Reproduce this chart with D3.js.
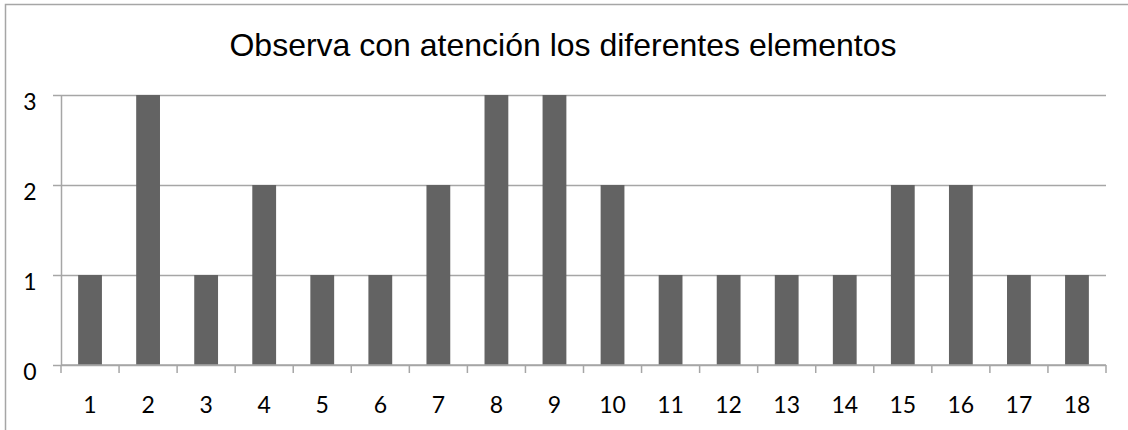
<!DOCTYPE html>
<html>
<head>
<meta charset="utf-8">
<script src="https://cdn.jsdelivr.net/npm/d3@7"></script>
<style>
  html, body { margin: 0; padding: 0; background: #fff; }
  svg { display: block; }
</style>
</head>
<body>
<svg id="chart" width="1128" height="430"></svg>
<script>
// Chart data
const categories = ["1","2","3","4","5","6","7","8","9","10","11","12","13","14","15","16","17","18"];
const values = [1, 3, 1, 2, 1, 1, 2, 3, 3, 2, 1, 1, 1, 1, 2, 2, 1, 1];
const yTicks = [0, 1, 2, 3];
const title = "Observa con atención los diferentes elementos";

const W = 1128, H = 430;
const margin = { left: 61, right: 22, top: 95, bottom: 65 };
const labelFont = "Lato, 'Open Sans', sans-serif";
const svg = d3.select("#chart");

// Outer chart frame (top and left edges visible)
svg.append("path")
  .attr("d", `M5.5,${H} V4.5 H${W}`)
  .attr("fill", "none")
  .attr("stroke", "#a6a6a6")
  .attr("stroke-width", 1.5);

const x = d3.scaleBand()
  .domain(categories)
  .range([margin.left, W - margin.right])
  .paddingInner(0.59)
  .paddingOuter(0.295);

const xBand = d3.scaleBand()
  .domain(categories)
  .range([margin.left, W - margin.right]);

const y = d3.scaleLinear()
  .domain([0, 3])
  .range([H - margin.bottom, margin.top]);

// Horizontal gridlines with outward tick on the left
const yAxis = d3.axisLeft(y)
  .tickValues(yTicks)
  .tickFormat(d3.format("d"))
  .tickSize(-(W - margin.right - margin.left))
  .tickSizeOuter(0);

const gy = svg.append("g")
  .attr("transform", `translate(${margin.left},0)`)
  .call(yAxis);
gy.select(".domain").attr("stroke", "#a6a6a6").attr("stroke-width", 1.5);
gy.selectAll(".tick line")
  .attr("x1", -8)
  .attr("stroke", "#a6a6a6")
  .attr("stroke-width", 1.5);
gy.selectAll(".tick text")
  .attr("x", -31)
  .attr("dy", 14)
  .attr("text-anchor", "middle")
  .attr("font-family", labelFont)
  .attr("font-size", 23)
  .attr("fill", "#000");

// Bars
svg.append("g")
  .selectAll("rect")
  .data(values)
  .join("rect")
  .attr("x", (d, i) => x(categories[i]))
  .attr("y", d => y(d))
  .attr("width", x.bandwidth())
  .attr("height", d => y(0) - y(d))
  .attr("fill", "#636363");

// Category axis with tick marks at band boundaries
const gx = svg.append("g")
  .attr("transform", `translate(0,${y(0)})`);
gx.append("line")
  .attr("x1", margin.left).attr("x2", W - margin.right)
  .attr("y1", 0).attr("y2", 0)
  .attr("stroke", "#a6a6a6").attr("stroke-width", 1.5);
const boundaries = categories.map(c => xBand(c)).concat([W - margin.right]);
gx.selectAll("line.tk")
  .data(boundaries)
  .join("line")
  .attr("class", "tk")
  .attr("x1", d => d).attr("x2", d => d)
  .attr("y1", 0).attr("y2", 8)
  .attr("stroke", "#a6a6a6").attr("stroke-width", 1.5);
gx.selectAll("text")
  .data(categories)
  .join("text")
  .attr("x", d => xBand(d) + xBand.bandwidth() / 2)
  .attr("y", 48)
  .attr("text-anchor", "middle")
  .attr("font-family", labelFont)
  .attr("font-size", 23)
  .attr("fill", "#000")
  .text(d => d);

// Title
svg.append("text")
  .attr("x", 563)
  .attr("y", 56)
  .attr("text-anchor", "middle")
  .attr("font-family", "'Liberation Sans', Arial, sans-serif")
  .attr("font-size", 32)
  .attr("fill", "#000")
  .text(title);
</script>
</body>
</html>
